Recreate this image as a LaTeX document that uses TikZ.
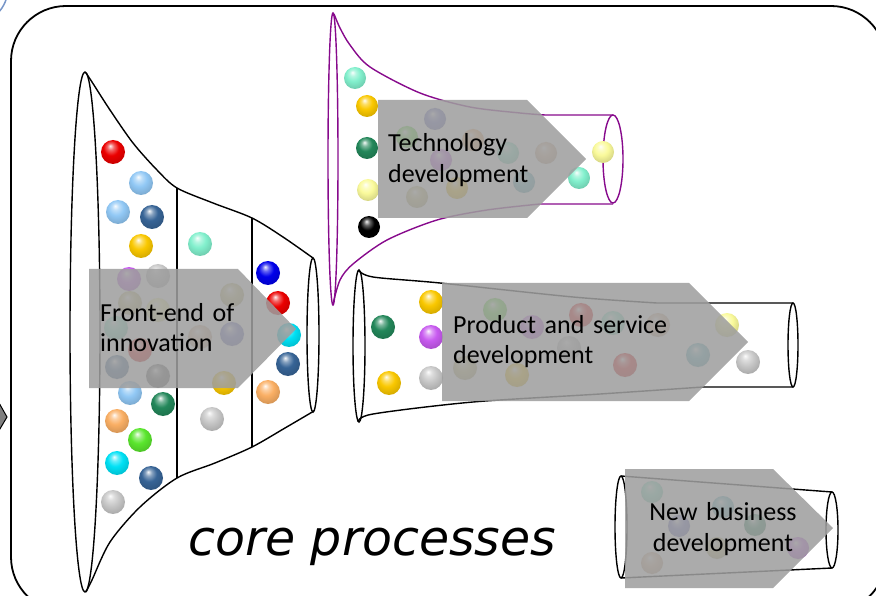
\documentclass[tikz,border=0pt]{standalone}
\usepackage{fontspec}
\setmainfont{Carlito}
\newfontfamily\manuscrit{DejaVu Sans}

% Couleurs des billes
\definecolor{rouge}{RGB}{235,0,0}
\definecolor{bleuciel}{RGB}{145,200,245}
\definecolor{bleunuit}{RGB}{55,100,150}
\definecolor{jaunedor}{RGB}{250,200,0}
\definecolor{turquoise}{RGB}{130,240,205}
\definecolor{argent}{RGB}{200,200,200}
\definecolor{mauve}{RGB}{200,90,240}
\definecolor{vertsapin}{RGB}{35,135,90}
\definecolor{abricot}{RGB}{250,175,100}
\definecolor{vertpomme}{RGB}{90,230,45}
\definecolor{cyanvif}{RGB}{0,225,245}
\definecolor{bleuroi}{RGB}{0,0,235}
\definecolor{jaunepaille}{RGB}{250,250,155}
\definecolor{kaki}{RGB}{205,195,120}
\definecolor{beige}{RGB}{225,185,150}
\definecolor{sarcelle}{RGB}{90,185,200}
\definecolor{ardoise}{RGB}{105,110,205}
\definecolor{grisfonce}{RGB}{100,100,100}
% Couleurs des formes
\definecolor{violetfonce}{RGB}{135,10,140}
\definecolor{grisfleche}{RGB}{158,158,158}
\definecolor{bleugris}{RGB}{120,150,200}

% Ombrage des billes
\colorlet{couleurbille}{gray}
\pgfdeclareradialshading[couleurbille]{bille}{\pgfqpoint{-6bp}{13bp}}{%
    color(0bp)=(couleurbille!5!white); color(7bp)=(couleurbille!60!white);
    color(16bp)=(couleurbille); color(30bp)=(couleurbille!85!black);
    color(50bp)=(couleurbille!55!black)}

\begin{document}
\begin{tikzpicture}[x=1pt, y=-1pt,
    entonnoir/.style={line width=1.4pt},
    fleche/.style={fill=grisfleche, fill opacity=0.87},
    etiquette/.style={font=\fontsize{26}{31}\selectfont, text width=240pt,
        align=left, inner sep=0pt, anchor=base west}]

    \useasboundingbox (0,0) rectangle (876,596);

    % Cadre
    \draw[line width=1.8pt, rounded corners=55pt] (11,6) rectangle (886,612);

    % Morceaux voisins coupés par le bord
    \draw[line width=1.5pt, bleugris] (-28,-12) circle (36pt);
    \draw[fill=gray, line width=1pt] (-6,394) -- (7,417) -- (-6,439);

    % Entonnoir du front-end
    \draw[entonnoir] (85,332) ellipse (15pt and 260pt);
    \draw[entonnoir] (313,335) ellipse (6pt and 77pt);
    \draw[entonnoir] plot[smooth] coordinates {(86,73) (92,82) (110,110) (133,143)
        (157,170) (177,188) (213,203) (252,218) (283,237) (313,258)};
    \draw[entonnoir] plot[smooth] coordinates {(86,592) (92,580) (110,542) (140,507)
        (177,478) (215,463) (252,447) (285,428) (314,411)};
    \draw[entonnoir] (177,188) -- (177,478);
    \draw[entonnoir] (252,218) -- (252,447);

    % Entonnoir technologie
    \draw[entonnoir, violetfonce] (333,159) ellipse (5pt and 146pt);
    \draw[entonnoir, violetfonce] (613,159) ellipse (10pt and 44pt);
    \draw[entonnoir, violetfonce] plot[smooth] coordinates {(334,14) (340,28) (350,45)
        (370,67) (420,93) (470,107) (520,113) (545,115)} -- (613,115);
    \draw[entonnoir, violetfonce] plot[smooth] coordinates {(333,304) (340,280) (353,264)
        (387,240) (437,220) (487,210) (540,204)} -- (613,204);

    % Entonnoir produits et services
    \draw[entonnoir] (359,346) ellipse (6pt and 76pt);
    \draw[entonnoir] (793,345) ellipse (5pt and 42pt);
    \draw[entonnoir] plot[smooth] coordinates {(358,270) (373,277) (440,283)
        (573,297) (657,303)} -- (793,303);
    \draw[entonnoir] plot[smooth] coordinates {(358,422) (373,414) (473,402)
        (600,394) (703,387)} -- (793,387);

    % Entonnoir nouveaux métiers
    \draw[entonnoir] (621,527) ellipse (6pt and 51pt);
    \draw[entonnoir] (832,530) ellipse (6pt and 38pt);
    \draw[entonnoir] (621,476) -- (832,492);
    \draw[entonnoir] (621,578) -- (832,568);

    % Billes
    \foreach \x/\y/\c in {113/152/rouge, 141/183/bleuciel, 118/212/bleuciel,
        152/217/bleunuit, 141/246/jaunedor, 129/279/mauve, 158/276/argent,
        130/303/kaki, 158/310/jaunepaille, 116/328/turquoise, 140/350/rouge,
        117/367/bleunuit, 158/376/grisfonce, 130/393/bleuciel, 163/404/vertsapin,
        117/421/abricot, 140/440/vertpomme, 117/463/cyanvif, 151/478/bleunuit,
        113/502/argent, 200/244/turquoise, 232/295/kaki, 200/337/beige,
        232/334/ardoise, 224/383/jaunedor, 212/419/argent, 268/273/bleuroi,
        278/303/rouge, 289/335/cyanvif, 288/364/bleunuit, 268/392/abricot}
        {\colorlet{couleurbille}{\c}\shade[shading=bille] (\x,\y) circle (12pt);}

    \foreach \x/\y/\c in {355/78/turquoise, 367/106/jaunedor, 367/148/vertsapin,
        368/190/jaunepaille, 369/227/black, 435/119/ardoise, 407/137/vertpomme,
        473/140/abricot, 441/160/mauve, 508/153/turquoise, 546/153/beige,
        417/197/kaki, 457/188/jaunedor, 524/182/sarcelle, 603/152/jaunepaille,
        579/178/turquoise}
        {\colorlet{couleurbille}{\c}\shade[shading=bille] (\x,\y) circle (11pt);}

    \foreach \x/\y/\c in {383/327/vertsapin, 431/302/jaunedor, 431/337/mauve,
        389/383/jaunedor, 431/378/argent, 465/368/kaki, 495/310/vertpomme,
        532/327/mauve, 581/315/rouge, 569/348/argent, 613/323/turquoise,
        658/325/beige, 625/365/rouge, 517/375/jaunedor, 727/325/jaunepaille,
        698/355/sarcelle, 748/362/argent}
        {\colorlet{couleurbille}{\c}\shade[shading=bille] (\x,\y) circle (12pt);}

    \foreach \x/\y/\c in {652/492/turquoise, 723/507/sarcelle, 679/526/ardoise,
        755/525/vertsapin, 798/548/mauve, 652/563/beige, 717/548/kaki}
        {\colorlet{couleurbille}{\c}\shade[shading=bille] (\x,\y) circle (11pt);}

    % Flèches grises
    \fill[fleche] (89,269) -- (238,269) -- (296,329) -- (238,388) -- (89,388) -- cycle;
    \fill[fleche] (378,100) -- (527,100) -- (586,159) -- (527,218) -- (378,218) -- cycle;
    \fill[fleche] (442,283) -- (689,283) -- (748,342) -- (689,401) -- (442,401) -- cycle;
    \fill[fleche] (625,469) -- (773,469) -- (833,528) -- (773,588) -- (625,588) -- cycle;

    % Textes
    \node[etiquette] (fei) at (100,321) {Front-end of\\innovation};
    \node[etiquette] (tech) at (388,152) {Technology\\development};
    \node[etiquette] (prod) at (453,333) {Product and service\\development};
    \node[etiquette, align=center, text width=200pt, anchor=base] (nbd) at (723,520)
        {New business\\development};
    \node[font=\manuscrit\itshape\fontsize{49}{55}\selectfont, anchor=base west,
        inner sep=0pt] (titre) at (188,555) {core processes};

\end{tikzpicture}
\end{document}
